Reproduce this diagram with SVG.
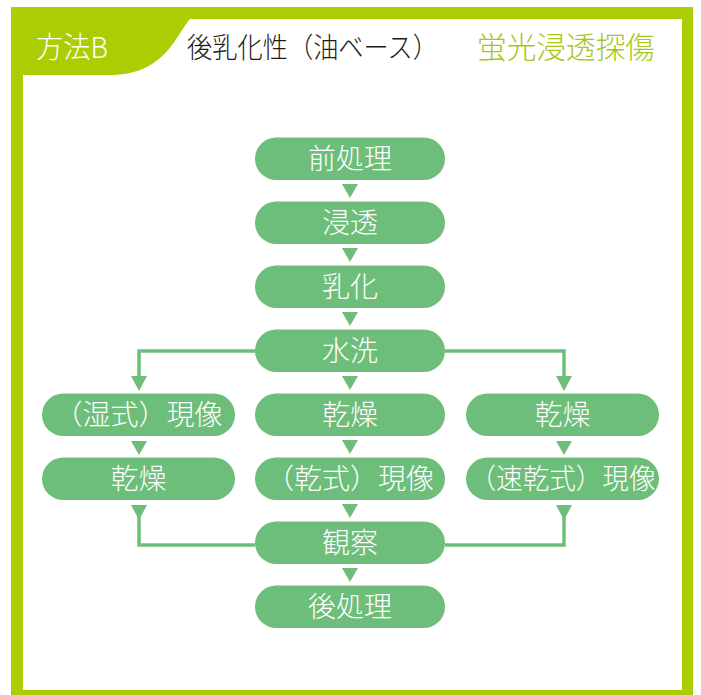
<svg xmlns="http://www.w3.org/2000/svg" width="701" height="695" viewBox="0 0 701 695">
<style>
.node{fill:#6dbe7a}
.nt{font-family:"Noto Sans CJK JP","Noto Sans",sans-serif;font-size:28px;font-weight:300;fill:#fff;text-anchor:middle}
.ln{fill:none;stroke:#6dbe7a;stroke-width:3.5}
.ar{fill:#6dbe7a}
.hd{font-family:"Noto Sans CJK JP","Noto Sans",sans-serif;font-weight:300}
</style>
<rect width="701" height="695" fill="#fff"/>
<g id="frame">
<rect x="11" y="7" width="682" height="688" fill="#abcd03"/>
<rect x="23" y="19" width="659" height="671" fill="#fff"/>
<path d="M23 19 L190 19 C176 35 165 75 110 75 L23 75 Z" fill="#abcd03"/>
<text class="hd" x="36" y="58" font-size="29" fill="#fff" textLength="72" lengthAdjust="spacingAndGlyphs">方法B</text>
<text class="hd" x="187" y="58" font-size="28" fill="#231815" textLength="251" lengthAdjust="spacingAndGlyphs">後乳化性（油ベース）</text>
<text class="hd" x="477" y="58" font-size="30" fill="#a7c61a" textLength="178" lengthAdjust="spacingAndGlyphs">蛍光浸透探傷</text>
</g>
<g id="connectors">
<path class="ln" d="M255 351 H139 V378"/>
<path class="ln" d="M445 351 H564 V378"/>
<path class="ln" d="M139 517 V545 H255"/>
<path class="ln" d="M564 517 V545 H445"/>
<polygon class="ar" points="131,376 147,376 139,391"/>
<polygon class="ar" points="556,376 572,376 564,391"/>
<polygon class="ar" points="131,505 147,505 139,520"/>
<polygon class="ar" points="556,505 572,505 564,520"/>
<polygon class="ar" points="131,441 147,441 139,455"/>
<polygon class="ar" points="556,441 572,441 564,455"/>
<polygon class="ar" points="342,184 358,184 350,198"/>
<polygon class="ar" points="342,248 358,248 350,262"/>
<polygon class="ar" points="342,312 358,312 350,326"/>
<polygon class="ar" points="342,376 358,376 350,390"/>
<polygon class="ar" points="342,440 358,440 350,454"/>
<polygon class="ar" points="342,504 358,504 350,518"/>
<polygon class="ar" points="342,568 358,568 350,582"/>
</g>
<g id="n1"><rect class="node" x="255" y="137.5" width="190" height="42.5" rx="21.25"/><text class="nt" x="350" y="169">前処理</text></g>
<g id="n2"><rect class="node" x="255" y="201.5" width="190" height="42.5" rx="21.25"/><text class="nt" x="350" y="233">浸透</text></g>
<g id="n3"><rect class="node" x="255" y="265.5" width="190" height="42.5" rx="21.25"/><text class="nt" x="350" y="297">乳化</text></g>
<g id="n4"><rect class="node" x="255" y="329.5" width="190" height="42.5" rx="21.25"/><text class="nt" x="350" y="361">水洗</text></g>
<g id="n5"><rect class="node" x="255" y="393.5" width="190" height="42.5" rx="21.25"/><text class="nt" x="350" y="425">乾燥</text></g>
<g id="n6"><rect class="node" x="255" y="457.5" width="190" height="42.5" rx="21.25"/><text class="nt" x="350" y="489">（乾式）現像</text></g>
<g id="n7"><rect class="node" x="255" y="521.5" width="190" height="42.5" rx="21.25"/><text class="nt" x="350" y="553">観察</text></g>
<g id="n8"><rect class="node" x="255" y="585.5" width="190" height="42.5" rx="21.25"/><text class="nt" x="350" y="617">後処理</text></g>
<g id="l1"><rect class="node" x="42" y="393.5" width="193" height="42.5" rx="21.25"/><text class="nt" x="138.5" y="425">（湿式）現像</text></g>
<g id="l2"><rect class="node" x="42" y="457.5" width="193" height="42.5" rx="21.25"/><text class="nt" x="138.5" y="489">乾燥</text></g>
<g id="r1"><rect class="node" x="466" y="393.5" width="193" height="42.5" rx="21.25"/><text class="nt" x="562.5" y="425">乾燥</text></g>
<g id="r2"><rect class="node" x="466" y="457.5" width="193" height="42.5" rx="21.25"/><text class="nt" x="562.5" y="489" textLength="186" lengthAdjust="spacingAndGlyphs">（速乾式）現像</text></g>
</svg>
